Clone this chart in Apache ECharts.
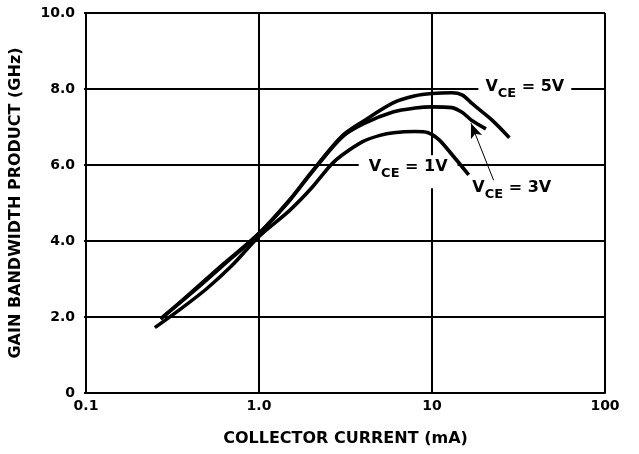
<!DOCTYPE html>
<html>
<head>
<meta charset="utf-8">
<script src="https://cdn.jsdelivr.net/npm/echarts@6/dist/echarts.min.js"></script>
<style>
html,body{margin:0;padding:0;background:#fff;}
#c{width:639px;height:454px;}
</style>
</head>
<body>
<div id="c"></div>
<script>
// ---- data ----
const xTickLabels = {'0.1':'0.1','1':'1.0','10':'10','100':'100'};
const yTickLabels = ['0','2.0','4.0','6.0','8.0','10.0'];

const current5V = [0.27, 0.4, 0.6, 1.0, 1.5, 2.0, 3.0, 4.0, 6.0, 8.0, 10, 13, 15, 17, 22, 28];
const gbw5V     = [1.95, 2.62, 3.33, 4.2, 5.08, 5.8, 6.75, 7.15, 7.64, 7.82, 7.88, 7.9, 7.84, 7.62, 7.2, 6.72];

const current3V = [0.27, 0.4, 0.6, 1.0, 1.5, 2.0, 3.0, 4.0, 6.0, 8.0, 10, 13, 15, 17, 20.5];
const gbw3V     = [1.95, 2.6, 3.3, 4.2, 5.06, 5.78, 6.72, 7.08, 7.4, 7.5, 7.53, 7.51, 7.38, 7.17, 6.95];

const current1V = [0.25, 0.35, 0.5, 0.7, 1.0, 1.5, 2.0, 2.6, 3.0, 4.0, 5.0, 6.0, 8.0, 9.5, 11, 13.4, 16.3];
const gbw1V     = [1.72, 2.2, 2.75, 3.36, 4.12, 4.8, 5.38, 6.0, 6.25, 6.62, 6.78, 6.85, 6.88, 6.85, 6.66, 6.21, 5.74];

const seriesNames = ['VCE = 5V', 'VCE = 3V', 'VCE = 1V'];

// annotation anchors (data coordinates)
const label5V = [34.4, 7.92];
const label1V = [7.28, 5.82];
const label3V = [28.9, 5.26];
const arrowFrom = [22.7, 5.6];
const arrowTo = [16.8, 7.1];

const FONT = 'DejaVu Sans';

function pairs(xs, ys){ return xs.map((x,i)=>[x, ys[i]]); }

function richLabel(v){
  return '{v|V}{s|CE}{v| = ' + v + '}';
}
const rich = {
  v: {fontFamily: FONT, fontWeight: 'bold', fontSize: 16, color: '#000', lineHeight: 16, padding: [0,0,5,0], verticalAlign: 'bottom'},
  s: {fontFamily: FONT, fontWeight: 'bold', fontSize: 13, color: '#000', lineHeight: 14, verticalAlign: 'bottom'}
};

const chart = echarts.init(document.getElementById('c'), null, {renderer: 'canvas'});

const curveStyle = {color: '#000', width: 3.6};

function curve(name, xs, ys){
  return {
    name: name, type: 'line', z: 3,
    data: pairs(xs, ys),
    showSymbol: false, symbol: 'none',
    smooth: 0.3,
    lineStyle: curveStyle,
    itemStyle: {color: '#000'},
    silent: true
  };
}

const option = {
  animation: false,
  backgroundColor: '#fff',
  grid: {left: 84, right: 34, top: 13, bottom: 61, containLabel: false},
  xAxis: {
    type: 'log', logBase: 10, min: 0.1, max: 100,
    name: 'COLLECTOR CURRENT (mA)', nameLocation: 'middle', nameGap: 38,
    nameTextStyle: {fontFamily: FONT, fontWeight: 'bold', fontSize: 16, color: '#000'},
    axisLine: {show: true, lineStyle: {color: '#000', width: 2}},
    axisTick: {show: false},
    splitLine: {show: true, lineStyle: {color: '#000', width: 2}},
    minorTick: {show: false},
    axisLabel: {
      fontFamily: FONT, fontWeight: 'bold', fontSize: 14, color: '#000', margin: 6,
      formatter: function(v){ const k = String(+v.toPrecision(3)); return xTickLabels[k] !== undefined ? xTickLabels[k] : ''; }
    }
  },
  yAxis: {
    type: 'value', min: 0, max: 10, interval: 2,
    name: 'GAIN BANDWIDTH PRODUCT (GHz)', nameLocation: 'middle', nameGap: 62,
    nameTextStyle: {fontFamily: FONT, fontWeight: 'bold', fontSize: 16, color: '#000'},
    axisLine: {show: true, lineStyle: {color: '#000', width: 2}},
    axisTick: {show: true, length: 2, lineStyle: {color: '#000', width: 2}},
    splitLine: {show: true, lineStyle: {color: '#000', width: 2}},
    axisLabel: {
      fontFamily: FONT, fontWeight: 'bold', fontSize: 14, color: '#000', margin: 11,
      formatter: function(v){ return yTickLabels[Math.round(v/2)]; }
    }
  },
  series: [
    curve(seriesNames[0], current5V, gbw5V),
    curve(seriesNames[1], current3V, gbw3V),
    curve(seriesNames[2], current1V, gbw1V),
    {
      name: 'labels', type: 'scatter', z: 2, data: [], symbolSize: 0, silent: true,
      markPoint: {
        z: 2,
        symbol: 'rect', symbolSize: 0, silent: true,
        label: {show: true, position: 'inside', backgroundColor: '#fff', rich: rich},
        data: [
          {coord: label5V, label: {formatter: richLabel('5V'), padding: [1,7,1,7]}},
          {coord: label1V, label: {formatter: richLabel('1V'), padding: [9,10,8,10]}},
          {coord: label3V, label: {formatter: richLabel('3V'), padding: [2,4,2,4]}}
        ]
      }
    },
    {
      name: 'arrow', type: 'scatter', z: 4, data: [], symbolSize: 0, silent: true,
      markLine: {
        z: 4,
        silent: true, animation: false,
        lineStyle: {color: '#000', width: 1, type: 'solid'},
        label: {show: false},
        symbolSize: [9, 15],
        data: [[
          {coord: arrowFrom, symbol: 'none'},
          {coord: arrowTo, symbol: 'arrow'}
        ]]
      }
    }
  ]
};
chart.setOption(option);
</script>
</body>
</html>
